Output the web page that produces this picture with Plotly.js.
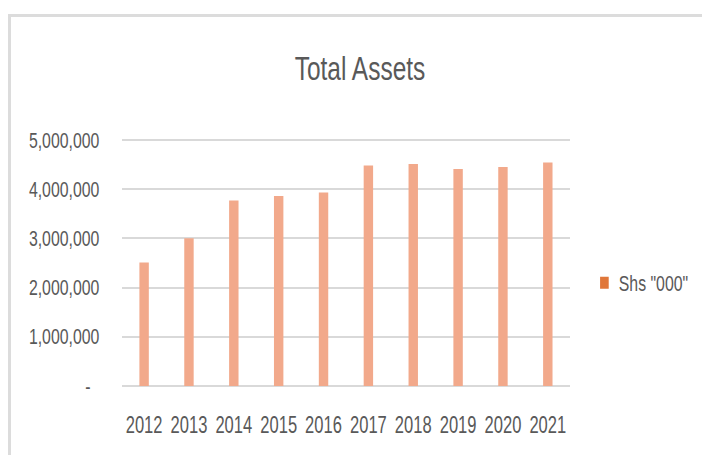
<!DOCTYPE html>
<html>
<head>
<meta charset="utf-8">
<script src="https://cdn.plot.ly/plotly-3.0.1.min.js"></script>
<style>
  html, body { margin: 0; background: #fff; overflow: hidden; width: 702px; height: 455px; }
  #chart { position: absolute; left: 0; top: 0; width: 975px; height: 455px;
           transform: scaleX(0.72); transform-origin: 0 0; }
  #frame { position: absolute; left: 8px; top: 14px; width: 720px; height: 460px;
           border-top: 3px solid #dcdcdc; border-left: 3px solid #dcdcdc; pointer-events: none; }
</style>
</head>
<body>
<div id="chart"></div>
<div id="frame"></div>
<script>
const years = ["2012","2013","2014","2015","2016","2017","2018","2019","2020","2021"];
const totalAssets = [2510000, 3000000, 3770000, 3860000, 3930000, 4480000, 4510000, 4410000, 4450000, 4540000];
const seriesName = 'Shs "000"';
const yTickVals = [0, 1000000, 2000000, 3000000, 4000000, 5000000];
const yTickText = ["-\u00a0\u00a0", "1,000,000", "2,000,000", "3,000,000", "4,000,000", "5,000,000"];

const S = 0.72;          // horizontal squeeze of the whole chart
const W = 702 / S;       // unsqueezed layout width
const FONT = '"Liberation Sans", Arial, sans-serif';
const TXT = '#595959';

const traces = [
  {
    type: 'bar', x: years, y: totalAssets, name: seriesName,
    marker: { color: '#f2a98b' }, width: 0.21, showlegend: false, hoverinfo: 'x+y'
  },
  {
    type: 'bar', x: [years[0]], y: [null], name: seriesName,
    marker: { color: '#e0773a' }, showlegend: true
  }
];

const layout = {
  width: W, height: 455,
  margin: { l: 122 / S, r: W - 570 / S, t: 135, b: 69, pad: 0, autoexpand: false },
  paper_bgcolor: '#ffffff', plot_bgcolor: '#ffffff',
  barmode: 'overlay',
  font: { family: FONT, color: TXT, size: 21 },
  title: {
    text: 'Total Assets', font: { family: FONT, size: 34, color: TXT },
    xref: 'container', x: 360 / 702, xanchor: 'center',
    yref: 'container', y: 1 - 68 / 455, yanchor: 'middle'
  },
  xaxis: {
    type: 'category', range: [-0.5, 9.5], showgrid: false, zeroline: false,
    showline: false, ticks: '', ticklabelstandoff: 23, tickangle: 0,
    tickfont: { family: FONT, size: 23, color: TXT }, fixedrange: true
  },
  yaxis: {
    range: [0, 5100000], tickvals: yTickVals, ticktext: yTickText,
    showgrid: true, gridcolor: '#d9d9d9', gridwidth: 2,
    zeroline: true, zerolinecolor: '#d9d9d9', zerolinewidth: 2,
    showline: false, ticks: '', ticklabelstandoff: 30,
    tickfont: { family: FONT, size: 22, color: TXT }, fixedrange: true
  },
  legend: {
    xref: 'container', x: 590 / 702, xanchor: 'left',
    yref: 'container', y: 1 - 283 / 455, yanchor: 'middle',
    font: { family: FONT, size: 22, color: TXT }, bgcolor: 'rgba(0,0,0,0)',
    itemwidth: 30
  }
};

Plotly.newPlot('chart', traces, layout, { displayModeBar: false, staticPlot: true });
</script>
</body>
</html>
